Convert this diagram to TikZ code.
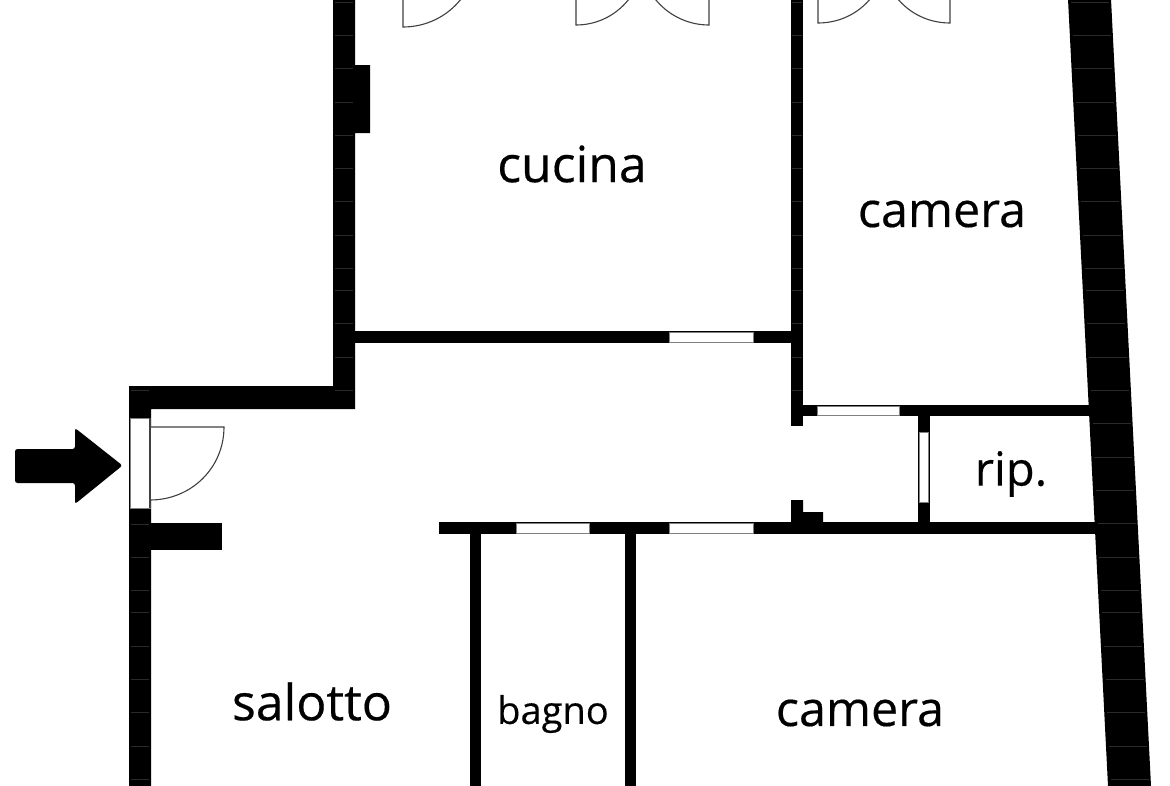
\documentclass[tikz,border=0pt]{standalone}
\usepackage{fontspec}
\setmainfont{Open Sans}
\newfontfamily\roomfont[FakeBold=0.35]{Open Sans}
\definecolor{seam}{HTML}{2A2A2A}
\definecolor{frame}{HTML}{808080}
\tikzset{
  wall/.style={fill=black,draw=none},
  winbox/.style={fill=white,draw=frame,line width=0.9pt},
  doorleaf/.style={fill=white,draw=black!75,line width=1.1pt},
  seamline/.style={draw=seam,line width=0.7pt},
  bigroom/.style={font=\roomfont\fontsize{50}{50}\selectfont,text=black,inner sep=0pt},
  camroom/.style={font=\roomfont\fontsize{48.5}{50}\selectfont,text=black,inner sep=0pt},
  riproom/.style={font=\roomfont\fontsize{47}{50}\selectfont,text=black,inner sep=0pt},
  midroom/.style={font=\roomfont\fontsize{38}{38}\selectfont,text=black,inner sep=0pt},
}
\begin{document}
\begin{tikzpicture}[x=1pt,y=-1pt]
\useasboundingbox (0,0) rectangle (1170,785);
\clip (0,0) rectangle (1170,785);
\fill[white] (0,0) rectangle (1170,785);
% doors at the top
\draw[doorleaf] (403,-47) -- (403,27) .. controls (444,27) and (477,-6) .. (477,-47) -- cycle;
\draw[doorleaf] (576,-42) -- (576,25) .. controls (613,25) and (643,-5) .. (643,-42) -- cycle;
\draw[doorleaf] (709,-44) -- (709,25) .. controls (671,25) and (640,-6) .. (640,-44) -- cycle;
\draw[doorleaf] (818,-45) -- (818,23) .. controls (856,23) and (886,-7) .. (886,-45) -- cycle;
\draw[doorleaf] (950,-45) -- (950,23) .. controls (912,23) and (882,-7) .. (882,-45) -- cycle;
% walls
\fill[wall] (333,-1) -- (355,-1) -- (355,65) -- (370,65) -- (370,133) -- (355,133) -- (355,409) -- (151,409) -- (151,786) -- (129,786) -- (129,386) -- (333,386) -- cycle;
\fill[wall] (151,523) rectangle (222,550);
\fill[wall] (355,331) rectangle (803,343);
\fill[wall] (791,-1) rectangle (803,426);
\fill[wall] (803,405) rectangle (1095,416);
\fill[wall] (918,416) rectangle (930,523);
\fill[wall] (791,500) -- (803,500) -- (803,512) -- (823,512) -- (823,523) -- (791,523) -- cycle;
\fill[wall] (439,522) rectangle (1100,534);
\fill[wall] (470,534) rectangle (481,786);
\fill[wall] (625,534) rectangle (636,786);
\fill[wall] (1068,-1) -- (1111,-1) -- (1151,786) -- (1108,786) -- cycle;
% seams
\foreach \yy in {2,35,68,102,135,168,201,235,268,290,323,357,390} {
  \draw[seamline] (335,\yy) -- (353,\yy);
  \draw[seamline] (792,\yy) -- (802,\yy);
}
\foreach \yy in {2,35,68,102,135,168,201,235,268,290,323,357,390,423,457,490,523,557,590,612,646,679,712,746,779} {
  \draw[seamline] ({1071+0.051*\yy},\yy) -- ({1109+0.051*\yy},\yy);
}
\foreach \yy in {390,524,557,590,612,646,679,712,746,779} {
  \draw[seamline] (131,\yy) -- (149,\yy);
}
% windows
\draw[winbox] (130,418) rectangle (150,508);
\draw[winbox] (669,332) rectangle (753,342);
\draw[winbox] (817,406) rectangle (899,415);
\draw[winbox] (919,432) rectangle (928,502);
\draw[winbox] (516,523) rectangle (589,533);
\draw[winbox] (669,523) rectangle (753,533);
% entrance door
\draw[doorleaf] (150,500) .. controls (191,500) and (224,468) .. (224,427) -- (150,427) -- cycle;
\draw[draw=black!75,line width=1.1pt] (150,418) -- (150,508);
% arrow
\fill[black,rounded corners=2.5pt] (15,449) -- (75,449) -- (75,428) -- (122.5,465.5) -- (75,504) -- (75,483) -- (15,483) -- cycle;
% labels
\node[bigroom] (cucina) at (572,164) {cucina};
\node[camroom] (camera1) at (942,214) {camera};
\node[riproom] (rip) at (1011,474) {rip.};
\node[bigroom] (salotto) at (312,701.5) {salotto};
\node[midroom] (bagno) at (553,714) {bagno};
\node[camroom] (camera2) at (860,713) {camera};
\end{tikzpicture}
\end{document}
